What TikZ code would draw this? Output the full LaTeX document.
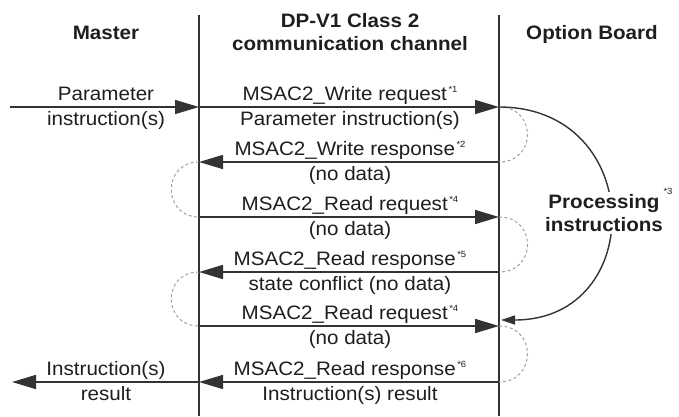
\documentclass[tikz,border=0pt]{standalone}
\usepackage{fontspec}
\setmainfont{Liberation Sans}[FakeStretch=1.06]
\usetikzlibrary{arrows.meta}
\definecolor{ink}{HTML}{1E1E1E}
\definecolor{lin}{HTML}{333333}
\definecolor{dsh}{HTML}{A0A0A0}
\newcommand\supn[1]{\hspace{1.5bp}\raisebox{7.5bp}{\fontsize{9}{9}\selectfont #1}}
\tikzset{
 txt/.style={anchor=base, inner sep=0pt, text=ink, font=\fontsize{19.5}{23}\selectfont},
 hdr/.style={anchor=base, inner sep=0pt, text=ink, font=\fontsize{19.5}{23}\selectfont\bfseries},
 lane/.style={draw=lin, line width=1.8bp},
 msg/.style={draw=lin, line width=1.6bp, -{Triangle[length=24bp,width=14bp]}},
 loopd/.style={draw=dsh, line width=1bp, dash pattern=on 3bp off 2.5bp},
 proc/.style={draw=lin, line width=1.4bp, -{Triangle[length=14bp,width=9bp]}},
}
\begin{document}
\begin{tikzpicture}[x=1bp,y=-1bp]
\useasboundingbox (0,0) rectangle (679,416);
% lanes
\coordinate (lt) at (199,15); \coordinate (lb) at (199,416);
\coordinate (rt) at (499,15); \coordinate (rb) at (499,416);
\draw[lane] (lt) -- (lb);
\draw[lane] (rt) -- (rb);
% headers
\node[hdr] (hM) at (106,39) {Master};
\node[hdr] (hC1) at (350,27) {DP-V1 Class 2};
\node[hdr] (hC2) at (350,50) {communication channel};
\node[hdr] (hO) at (592,39) {Option Board};
% message points
\coordinate (m1) at (10,107);  \coordinate (a1) at (199,107); \coordinate (b1) at (499,107);
\coordinate (a2) at (199,162); \coordinate (b2) at (499,162);
\coordinate (a3) at (199,217); \coordinate (b3) at (499,217);
\coordinate (a4) at (199,272); \coordinate (b4) at (499,272);
\coordinate (a5) at (199,326); \coordinate (b5) at (499,326);
\coordinate (m6) at (12,382);  \coordinate (a6) at (199,382); \coordinate (b6) at (499,382);
\coordinate (pe) at (501,320);
% dashed loops
\draw[loopd] (b1) .. controls +(38,0) and +(38,0) .. (b2);
\draw[loopd] (a2) .. controls +(-37,0) and +(-37,0) .. (a3);
\draw[loopd] (b3) .. controls +(38,0) and +(38,0) .. (b4);
\draw[loopd] (a4) .. controls +(-37,0) and +(-37,0) .. (a5);
\draw[loopd] (b5) .. controls +(38,0) and +(38,0) .. (b6);
% processing curve
\draw[proc] (b1) .. controls +(147,0) and +(147,0) .. (pe);
\node[hdr, anchor=center, align=center, fill=white, inner sep=2bp] (pr) at (604,213) {Processing\\instructions};
\node[txt, font=\fontsize{9}{9}\selectfont] (pr3) at (668,194) {*3};
% messages
\draw[msg] (m1) -- (a1);
\draw[msg] (a1) -- (b1);
\draw[msg] (b2) -- (a2);
\draw[msg] (a3) -- (b3);
\draw[msg] (b4) -- (a4);
\draw[msg] (a5) -- (b5);
\draw[msg] (b6) -- (a6);
\draw[msg] (a6) -- (m6);
% master labels
\node[txt] (ml1) at (106,100) {Parameter};
\node[txt] (ml2) at (106,125) {instruction(s)};
\node[txt] (ml3) at (106,375) {Instruction(s)};
\node[txt] (ml4) at (106,400) {result};
% channel labels
\node[txt] (c1a) at (350,100) {MSAC2\_Write request\supn{*1}};
\node[txt] (c1b) at (350,125) {Parameter instruction(s)};
\node[txt] (c2a) at (350,155) {MSAC2\_Write response\supn{*2}};
\node[txt] (c2b) at (350,180) {(no data)};
\node[txt] (c3a) at (350,210) {MSAC2\_Read request\supn{*4}};
\node[txt] (c3b) at (350,235) {(no data)};
\node[txt] (c4a) at (350,265) {MSAC2\_Read response\supn{*5}};
\node[txt] (c4b) at (350,290) {state conflict (no data)};
\node[txt] (c5a) at (350,319) {MSAC2\_Read request\supn{*4}};
\node[txt] (c5b) at (350,344) {(no data)};
\node[txt] (c6a) at (350,375) {MSAC2\_Read response\supn{*6}};
\node[txt] (c6b) at (350,400) {Instruction(s) result};
\end{tikzpicture}
\end{document}
